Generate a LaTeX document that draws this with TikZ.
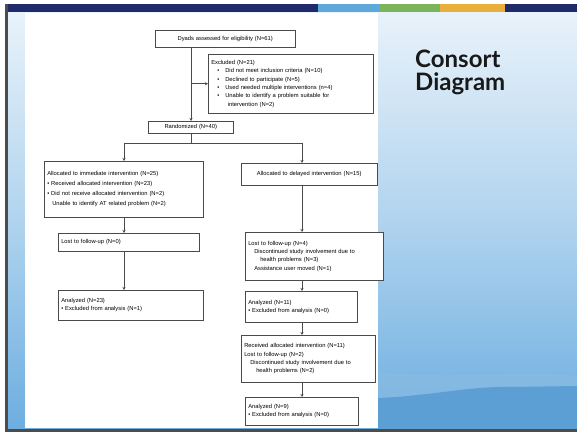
\documentclass[tikz,border=0pt]{standalone}
\usepackage{fontspec}
\setmainfont{Liberation Sans}
\newfontfamily\titlefont{Lato}
\usepackage{tikz}
\usetikzlibrary{arrows.meta}

\definecolor{navy}{HTML}{1F2A6B}
\definecolor{barblue}{HTML}{5FA8DC}
\definecolor{bargreen}{HTML}{7AB55C}
\definecolor{baryellow}{HTML}{E8B03A}
\definecolor{bgtop}{HTML}{E8F2FA}
\definecolor{bgbot}{HTML}{6CAEE0}
\definecolor{hill}{HTML}{5C9FD5}
\definecolor{boxline}{HTML}{4A4A4A}

\newcommand{\boxfont}{\fontsize{5.8}{8.4}\selectfont}

\begin{document}
\begin{tikzpicture}[x=1pt,y=-1pt,
    box/.style={draw=boxline,line width=0.5pt,fill=white,font=\boxfont,align=left,
        anchor=north west,inner xsep=3pt,inner ysep=1pt},
    heading/.style={font=\titlefont\bfseries\fontsize{24}{24}\selectfont,text=black!90,anchor=base west,inner sep=0pt},
    flow/.style={draw=boxline,line width=0.5pt,-{Stealth[length=3pt,width=3pt]}}]
\useasboundingbox (0,0) rectangle (577,435);
% slide background
\fill[white] (0,0) rectangle (577,435);
\shade[top color=bgtop,bottom color=bgbot,middle color=bgtop!55!bgbot] (6,12) rectangle (577,430);
\fill[hill!70!white,opacity=0.5] (378,372) .. controls (450,380) and (520,370) .. (577,376) -- (577,430) -- (378,430) -- cycle;
\fill[hill] (378,398) .. controls (430,396) and (470,386) .. (510,387) -- (577,386) -- (577,430) -- (378,430) -- cycle;
\fill[navy] (6,4) rectangle (318,12);
\fill[barblue] (318,4) rectangle (380,12);
\fill[bargreen] (380,4) rectangle (440,12);
\fill[baryellow] (440,4) rectangle (505,12);
\fill[navy] (505,4) rectangle (577,12);
\fill[black!70] (5,4) rectangle (8,431);
\fill[black!70] (5,429) rectangle (577,432);
\fill[white] (25,13) rectangle (378,428);
\node[heading] (titleA) at (415,68) {Consort};
\node[heading] (titleB) at (415,91) {Diagram};

% boxes
\begin{scope}
    \node[box,text width=134pt,minimum height=17pt,align=center] (dyads) at (155,30) {Dyads assessed for eligibility (N=61)};
    \node[box,text width=159pt,minimum height=59pt] (excl) at (208,54) {Excluded (N=21)\\
        \hspace*{6pt}\textbullet\hspace{6pt}Did not meet inclusion criteria (N=10)\\
        \hspace*{6pt}\textbullet\hspace{6pt}Declined to participate (N=5)\\
        \hspace*{6pt}\textbullet\hspace{6pt}Used needed multiple interventions (n=4)\\
        \hspace*{6pt}\textbullet\hspace{6pt}Unable to identify a problem suitable for\\
        \hspace*{16.5pt}intervention (N=2)};
    \node[box,text width=79pt,minimum height=12pt,align=center] (rand) at (148,121) {Randomized (N=40)};
    \node[box,text width=153pt,minimum height=56pt,font=\fontsize{5.8}{10}\selectfont] (immed) at (44,161) {Allocated to immediate intervention (N=25)\\
        \textbullet\ Received allocated intervention (N=23)\\
        \textbullet\ Did not receive allocated intervention (N=2)\\
        \hspace*{5pt}Unable to identify AT related problem (N=2)};
    \node[box,text width=130pt,minimum height=22pt,align=center] (delay) at (241,163) {Allocated to delayed intervention (N=15)};
    \node[box,text width=135pt,minimum height=18pt] (lostL) at (58,233) {Lost to follow-up (N=0)};
    \node[box,text width=139pt,minimum height=30pt] (anaL) at (58,290) {Analyzed (N=23)\\
        \textbullet\ Excluded from analysis (N=1)};
    \node[box,text width=132pt,minimum height=48pt] (lostR) at (245,232) {Lost to follow-up (N=4)\\
        \hspace*{6pt}Discontinued study involvement due to\\
        \hspace*{12pt}health problems (N=3)\\
        \hspace*{6pt}Assistance user moved (N=1)};
    \node[box,text width=106pt,minimum height=31pt] (anaR) at (245,291) {Analyzed (N=11)\\
        \textbullet\ Excluded from analysis (N=0)};
    \node[box,text width=128pt,minimum height=47pt] (recR) at (241,335) {Received allocated intervention (N=11)\\
        Lost to follow-up (N=2)\\
        \hspace*{6pt}Discontinued study involvement due to\\
        \hspace*{12pt}health problems (N=2)};
    \node[box,text width=107pt,minimum height=28pt] (anaR2) at (245,397) {Analyzed (N=9)\\
        \textbullet\ Excluded from analysis (N=0)};

    % columns and junctions
    \coordinate (colM) at (191,0);
    \coordinate (colL) at (124,0);
    \coordinate (colR) at (302,0);
    \coordinate (split) at (191,143);

    \path [flow] (dyads.south -| colM) -- (rand.north -| colM);
    \path [flow] (excl.west -| colM) -- (excl.west);
    \path [draw=boxline,line width=0.5pt] (rand.south -| colM) -- (split);
    \path [draw=boxline,line width=0.5pt] (split -| colL) -- (split -| colR);
    \path [flow] (split -| colL) -- (immed.north -| colL);
    \path [flow] (split -| colR) -- (delay.north -| colR);
    \path [flow] (immed.south -| colL) -- (lostL.north -| colL);
    \path [flow] (lostL.south -| colL) -- (anaL.north -| colL);
    \path [flow] (delay.south -| colR) -- (lostR.north -| colR);
    \path [flow] (lostR.south -| colR) -- (anaR.north -| colR);
    \path [flow] (anaR.south -| colR) -- (recR.north -| colR);
    \path [flow] (recR.south -| colR) -- (anaR2.north -| colR);
\end{scope}
\end{tikzpicture}
\end{document}
